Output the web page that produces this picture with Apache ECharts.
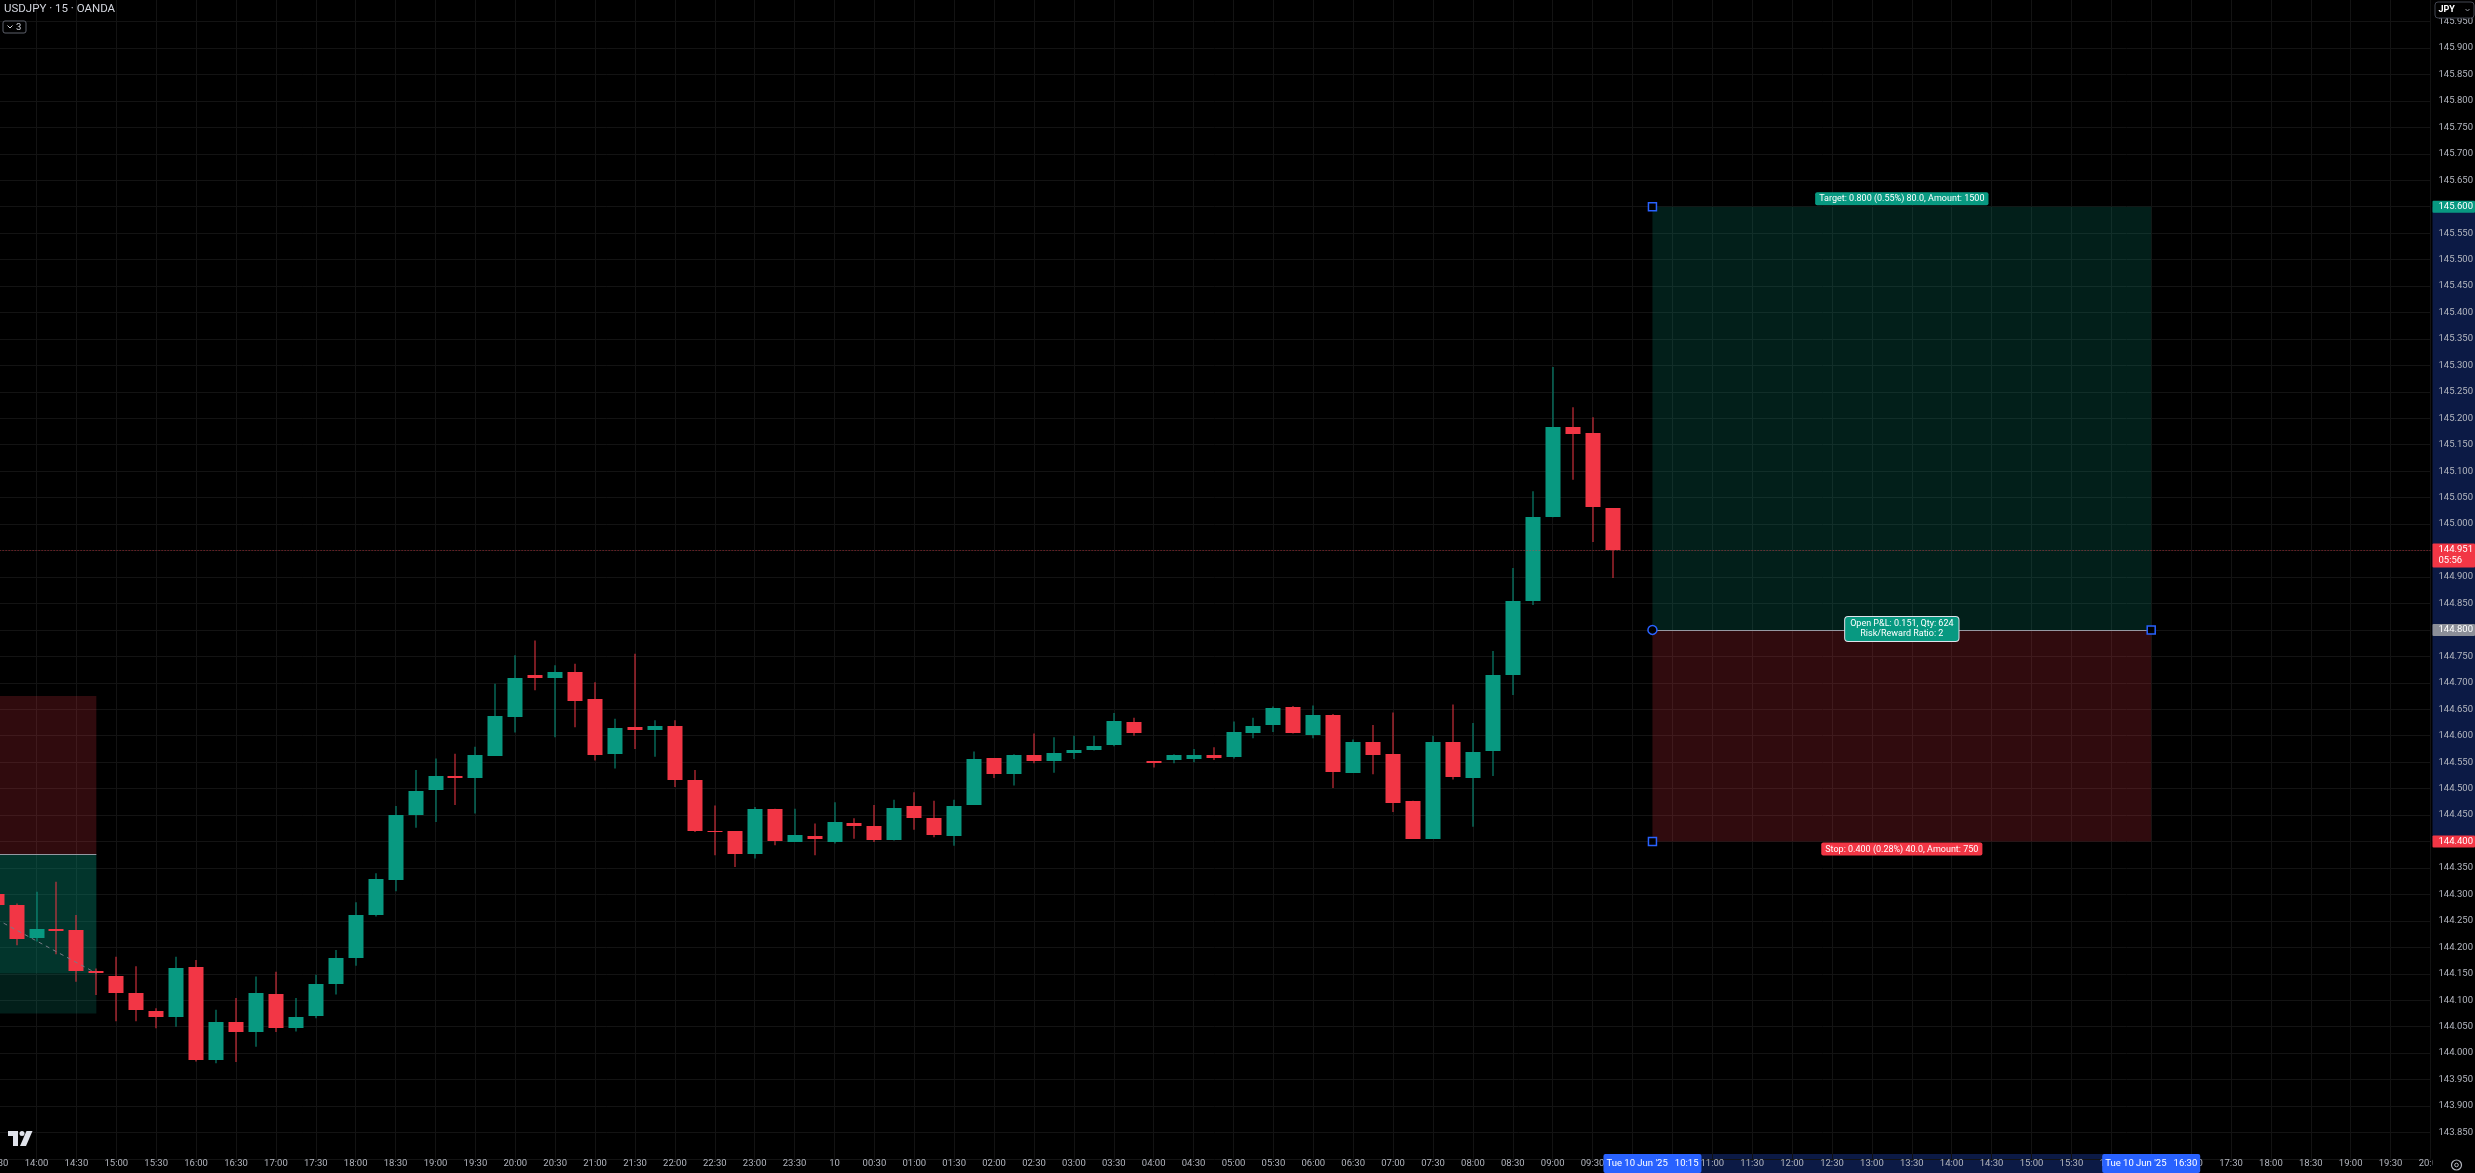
<!DOCTYPE html>
<html><head><meta charset="utf-8">
<script src="https://cdn.jsdelivr.net/npm/echarts@6/dist/echarts.min.js"></script>
<style>html,body{margin:0;padding:0;background:#000;overflow:hidden}#c{width:2475px;height:1173px}</style>
</head><body><div id="c"></div>
<script>
// ---------------- DATA ----------------
const symbolTitle = 'USDJPY \u00b7 15 \u00b7 OANDA';
const indicatorCount = '3';
const currencyLabel = 'JPY';
// time tick labels, one per 30 minutes starting at index -2 (13:30)
const timeLabels = ["13:30","14:00","14:30","15:00","15:30","16:00","16:30","17:00","17:30","18:00","18:30","19:00","19:30","20:00","20:30","21:00","21:30","22:00","22:30","23:00","23:30","10","00:30","01:00","01:30","02:00","02:30","03:00","03:30","04:00","04:30","05:00","05:30","06:00","06:30","07:00","07:30","08:00","08:30","09:00","09:30","10:00","10:30","11:00","11:30","12:00","12:30","13:00","13:30","14:00","14:30","15:00","15:30","16:00","16:30","17:00","17:30","18:00","18:30","19:00","19:30","20:00"];
const firstBarIndex = -2; // 13:30 bar (15-minute bars, 14:00 = 0)
const opens  = [144.300,144.280,144.217,144.234,144.233,144.155,144.146,144.113,144.080,144.067,144.163,143.987,144.058,144.039,144.112,144.048,144.069,144.130,144.180,144.261,144.329,144.450,144.497,144.524,144.519,144.563,144.636,144.714,144.709,144.721,144.670,144.565,144.616,144.612,144.619,144.516,144.420,144.420,144.377,144.462,144.399,144.411,144.399,144.435,144.429,144.403,144.467,144.445,144.410,144.469,144.557,144.528,144.563,144.552,144.568,144.572,144.581,144.626,144.552,144.554,144.556,144.564,144.559,144.604,144.620,144.654,144.601,144.639,144.531,144.589,144.565,144.477,144.406,144.589,144.520,144.570,144.714,144.854,145.013,145.184,145.172,145.030];
const highs  = [144.305,144.283,144.305,144.324,144.261,144.160,144.182,144.164,144.085,144.182,144.176,144.082,144.104,144.145,144.154,144.104,144.148,144.195,144.285,144.340,144.467,144.535,144.557,144.566,144.579,144.698,144.752,144.780,144.733,144.736,144.701,144.632,144.755,144.629,144.629,144.535,144.468,144.420,144.465,144.462,144.462,144.434,144.474,144.444,144.469,144.479,144.493,144.477,144.479,144.570,144.557,144.565,144.604,144.597,144.600,144.600,144.643,144.634,144.552,144.565,144.575,144.578,144.627,144.634,144.655,144.656,144.657,144.641,144.593,144.620,144.644,144.477,144.600,144.659,144.624,144.760,144.917,145.062,145.297,145.221,145.202,145.030];
const lows   = [144.272,144.204,144.211,144.187,144.135,144.110,144.060,144.060,144.047,144.050,143.984,143.981,143.983,144.012,144.040,144.041,144.066,144.111,144.165,144.258,144.306,144.426,144.437,144.469,144.453,144.563,144.606,144.686,144.597,144.616,144.553,144.538,144.575,144.560,144.503,144.418,144.374,144.352,144.368,144.393,144.399,144.374,144.396,144.405,144.399,144.402,144.422,144.408,144.392,144.469,144.520,144.506,144.548,144.530,144.556,144.572,144.580,144.600,144.540,144.548,144.550,144.554,144.557,144.595,144.607,144.604,144.595,144.501,144.530,144.527,144.456,144.405,144.405,144.517,144.428,144.524,144.677,144.847,145.013,145.084,144.966,144.898];
const closes = [144.280,144.216,144.234,144.230,144.155,144.151,144.113,144.080,144.069,144.160,143.987,144.058,144.039,144.113,144.047,144.069,144.130,144.180,144.261,144.329,144.451,144.495,144.524,144.521,144.563,144.638,144.710,144.709,144.721,144.667,144.565,144.615,144.610,144.619,144.516,144.419,144.418,144.377,144.462,144.402,144.412,144.406,144.437,144.430,144.403,144.463,144.445,144.412,144.467,144.556,144.527,144.563,144.552,144.567,144.573,144.580,144.627,144.606,144.548,144.563,144.563,144.559,144.607,144.618,144.653,144.604,144.639,144.531,144.589,144.565,144.472,144.406,144.589,144.522,144.570,144.714,144.854,145.013,145.183,145.170,145.032,144.951];
const lastPrice = 144.951;
const barCountdown = '05:56';
// long position tool
const posStart = 81, posEnd = 106;           // 10:15 .. 16:30 (bar index)
const entryPrice = 144.800, targetPrice = 145.600, stopPrice = 144.400;
const posDate = "Tue 10 Jun '25";
const posStartTime = '10:15', posEndTime = '16:30';
const targetText = 'Target: 0.800 (0.55%) 80.0, Amount: 1500';
const pnlText = ['Open P&L: 0.151, Qty: 624', 'Risk/Reward Ratio: 2'];
const stopText = 'Stop: 0.400 (0.28%) 40.0, Amount: 750';
// older short position (left edge)
const oldStart = -8, oldEnd = 3;
const oldEntry = 144.375, oldStop = 144.675, oldTarget = 144.075, oldClose = 144.151;
// axes
const xMin = -2, xMax = 120, xStep = 2;
const yMin = 143.80, yMax = 146.00, yStep = 0.05;

// ---------------- STYLE ----------------
const UP = '#089981', DOWN = '#F23645';
const FONT = "Roboto, 'Liberation Sans', sans-serif";
const AX = '#b2b5be';
const GRIDC = '#131313';

const chart = echarts.init(document.getElementById('c'), null, {renderer: 'canvas'});
const candleData = opens.map((o, i) => [i + firstBarIndex, o, closes[i], lows[i], highs[i]]);

function renderCandle(params, api) {
  const k = api.value(0), o = api.value(1), c = api.value(2), l = api.value(3), h = api.value(4);
  const pO = api.coord([k, o]), pC = api.coord([k, c]), pL = api.coord([k, l]), pH = api.coord([k, h]);
  const w = Math.round(api.size([1, 0])[0] * 0.75);
  const cx = Math.round(pO[0]);
  const color = c >= o ? UP : DOWN;
  const top = Math.round(Math.min(pO[1], pC[1]));
  const bh = Math.max(1, Math.round(Math.abs(pO[1] - pC[1])));
  return {type: 'group', children: [
    {type: 'rect', shape: {x: cx - 0.5, y: pH[1], width: 1, height: pL[1] - pH[1]}, style: {fill: color}},
    {type: 'rect', shape: {x: cx - w / 2, y: top, width: w, height: bh}, style: {fill: color}}
  ]};
}

const zoneStartOld = Math.max(oldStart, xMin);
const PROFIT = 'rgba(8,153,129,0.2)', LOSS = 'rgba(242,54,69,0.2)';

chart.setOption({
  backgroundColor: '#000000',
  animation: false,
  textStyle: {fontFamily: FONT},
  grid: {left: -3.4, right: 44.5, top: -4.9, bottom: 14.1, outerBoundsMode: 'none', containLabel: false},
  xAxis: {
    type: 'value', min: xMin, max: xMax, interval: xStep,
    axisLine: {show: false}, axisTick: {show: false},
    splitLine: {show: true, lineStyle: {color: GRIDC, width: 1}},
    axisLabel: {color: AX, fontSize: 9.5, fontFamily: FONT, margin: 0,
      formatter: v => { const i = Math.round((v - xMin) / xStep); return timeLabels[i] || ''; }}
  },
  yAxis: {
    type: 'value', position: 'right', min: yMin, max: yMax, interval: yStep, scale: true,
    axisLine: {show: false}, axisTick: {show: false},
    splitLine: {show: true, lineStyle: {color: GRIDC, width: 1}},
    axisLabel: {color: AX, fontSize: 9.5, fontFamily: FONT, margin: 8, showMinLabel: false, showMaxLabel: false,
      formatter: v => v.toFixed(3)}
  },
  series: [
    { // position zones
      type: 'line', data: [], z: 1, silent: true,
      markArea: {silent: true, label: {show: false}, data: [
        [{coord: [posStart, targetPrice], itemStyle: {color: PROFIT}}, {coord: [posEnd, entryPrice]}],
        [{coord: [posStart, entryPrice], itemStyle: {color: LOSS}}, {coord: [posEnd, stopPrice]}],
        [{coord: [zoneStartOld, oldStop], itemStyle: {color: LOSS}}, {coord: [oldEnd, oldEntry]}],
        [{coord: [zoneStartOld, oldEntry], itemStyle: {color: PROFIT}}, {coord: [oldEnd, oldTarget]}],
        [{coord: [zoneStartOld, oldEntry], itemStyle: {color: 'rgba(8,153,129,0.18)'}}, {coord: [oldEnd, oldClose]}]
      ]}
    },
    { // candles
      type: 'custom', name: 'USDJPY', z: 3, clip: true,
      renderItem: renderCandle, data: candleData, encode: {x: 0, y: [1, 2, 3, 4]}
    },
    { // old trade path
      type: 'line', z: 4, clip: true, silent: true, symbol: 'none',
      data: [[oldStart, oldEntry], [oldEnd, oldClose]],
      lineStyle: {color: '#787b86', width: 1, type: [4, 4]}
    },
    { // lines + handles
      type: 'line', data: [], z: 5, silent: true,
      markLine: {silent: true, symbol: 'none', label: {show: false}, animation: false, data: [
        [{coord: [posStart, entryPrice], lineStyle: {color: '#9598a1', width: 1, type: 'solid'}}, {coord: [posEnd, entryPrice]}],
        [{coord: [zoneStartOld, oldEntry], lineStyle: {color: '#9598a1', width: 1, type: 'solid'}}, {coord: [oldEnd, oldEntry]}],
        {yAxis: lastPrice, lineStyle: {color: 'rgba(242,54,69,0.6)', width: 1, type: [1, 2]}}
      ]},
      markPoint: {silent: true, label: {show: false}, symbolSize: 8,
        itemStyle: {color: '#000', borderColor: '#2962FF', borderWidth: 1.5},
        data: [
          {coord: [posStart, targetPrice], symbol: 'rect'},
          {coord: [posStart, entryPrice], symbol: 'circle', symbolSize: 9},
          {coord: [posEnd, entryPrice], symbol: 'rect'},
          {coord: [posStart, stopPrice], symbol: 'rect'}
        ]}
    }
  ]
});

// ---------------- overlays computed from the axes ----------------
function px(k, p) { return chart.convertToPixel({xAxisIndex: 0, yAxisIndex: 0}, [k, p]); }
const W = 2475, H = 1173;
const plotRight = px(xMax, yMin)[0];
const plotBottom = px(xMax, yMin)[1];
const colLeft = plotRight + 2;
const labX = plotRight + 8;
const xs = px(posStart, entryPrice)[0], xe = px(posEnd, entryPrice)[0];
const midX = (xs + xe) / 2;
const yT = px(posStart, targetPrice)[1], yE = px(posStart, entryPrice)[1], yS = px(posStart, stopPrice)[1];
const stripTop = plotBottom - 5;

function tag(price, bg, txt, lines) {
  const y = px(xMax, price)[1];
  const h = lines === 2 ? 24 : 12;
  const top = lines === 2 ? y - 6.5 : y - 6;
  return [
    {type: 'rect', z: 100, shape: {x: colLeft, y: top, width: W - colLeft, height: h, r: 1}, style: {fill: bg}},
    {type: 'text', z: 101, x: labX, y: top + h / 2, style: {text: txt, fill: '#ffffff', font: '9.5px ' + FONT, verticalAlign: 'middle', align: 'left', lineHeight: 11}}
  ];
}
function dateBox(x, t) {
  return [
    {type: 'rect', z: 100, shape: {x: x - 49, y: stripTop, width: 98, height: H - stripTop, r: 2}, style: {fill: '#2962FF'}},
    {type: 'text', z: 101, x: x, y: stripTop + (H - stripTop) / 2, style: {text: posDate + '   ' + t, fill: '#ffffff', font: '9.5px ' + FONT, align: 'center', verticalAlign: 'middle'}}
  ];
}

const g = [];
// axis highlight bands (below axis labels)
g.push({type: 'rect', z: -1, shape: {x: colLeft, y: yT, width: W - colLeft, height: yS - yT}, style: {fill: '#0c1a45'}});
g.push({type: 'rect', z: -1, shape: {x: xs, y: stripTop, width: xe - xs, height: H - stripTop}, style: {fill: '#0c1a45'}});
// cover overflow of last time label into price column
g.push({type: 'rect', z: 90, shape: {x: colLeft, y: stripTop, width: W - colLeft, height: H - stripTop}, style: {fill: '#000'}});
// settings icon
g.push({type: 'circle', z: 101, shape: {cx: 2456.5, cy: 1165, r: 5}, style: {fill: 'none', stroke: AX, lineWidth: 1.2}});
g.push({type: 'circle', z: 101, shape: {cx: 2456.5, cy: 1165, r: 1.8}, style: {fill: 'none', stroke: AX, lineWidth: 1}});
// price tags
g.push(...tag(targetPrice, UP, targetPrice.toFixed(3), 1));
g.push(...tag(entryPrice, '#8c8f98', entryPrice.toFixed(3), 1));
g.push(...tag(stopPrice, DOWN, stopPrice.toFixed(3), 1));
g.push(...tag(lastPrice, DOWN, lastPrice.toFixed(3) + '\n' + barCountdown, 2));
// date boxes
g.push(...dateBox(xs, posStartTime));
g.push(...dateBox(xe, posEndTime));
// position labels
g.push({type: 'text', z: 100, x: midX, y: yT - 1.5, style: {text: targetText, fill: '#fff', font: '9px ' + FONT, align: 'center', verticalAlign: 'bottom', backgroundColor: UP, padding: [2, 4, 1, 4], borderRadius: 2, lineHeight: 10}});
g.push({type: 'text', z: 100, x: midX, y: yE - 1, style: {text: pnlText.join('\n'), fill: '#fff', font: '9px ' + FONT, align: 'center', verticalAlign: 'middle', backgroundColor: UP, borderColor: '#e0e3eb', borderWidth: 1, padding: [2, 5, 2, 5], borderRadius: 3, lineHeight: 10}});
g.push({type: 'text', z: 100, x: midX, y: yS + 1, style: {text: stopText, fill: '#fff', font: '9px ' + FONT, align: 'center', verticalAlign: 'top', backgroundColor: DOWN, padding: [2, 4, 1, 4], borderRadius: 2, lineHeight: 10}});
// header
g.push({type: 'text', z: 100, x: 4, y: 9, style: {text: symbolTitle, fill: '#d1d4dc', font: '11.5px ' + FONT, verticalAlign: 'middle'}});
g.push({type: 'rect', z: 100, shape: {x: 3, y: 21, width: 23, height: 12, r: 2}, style: {fill: '#000', stroke: '#5d606b', lineWidth: 1}});
g.push({type: 'polyline', z: 101, shape: {points: [[7.5, 25.5], [10, 28], [12.5, 25.5]]}, style: {stroke: '#d1d4dc', lineWidth: 1, fill: null}});
g.push({type: 'text', z: 101, x: 16, y: 27.5, style: {text: indicatorCount, fill: '#d1d4dc', font: '9.5px ' + FONT, verticalAlign: 'middle'}});
// currency button
g.push({type: 'rect', z: 100, shape: {x: 2435, y: 2, width: 39, height: 16, r: 3}, style: {fill: '#000', stroke: '#434651', lineWidth: 1}});
g.push({type: 'text', z: 101, x: 2438.5, y: 10, style: {text: currencyLabel, fill: '#ffffff', font: 'bold 9px ' + FONT, verticalAlign: 'middle'}});
g.push({type: 'polyline', z: 101, shape: {points: [[2465.5, 9], [2467.5, 11], [2469.5, 9]]}, style: {stroke: '#9598a1', lineWidth: 1, fill: null}});
// logo
g.push({type: 'polygon', z: 100, shape: {points: [[8, 1131], [18, 1131], [18, 1146], [13, 1146], [13, 1136], [8, 1136]]}, style: {fill: '#e0e3eb'}});
g.push({type: 'circle', z: 100, shape: {cx: 22, cy: 1133.5, r: 2.5}, style: {fill: '#e0e3eb'}});
g.push({type: 'polygon', z: 100, shape: {points: [[26.5, 1131], [32.5, 1131], [26, 1146], [20, 1146]]}, style: {fill: '#e0e3eb'}});

chart.setOption({graphic: {elements: g}});
</script>
</body></html>
